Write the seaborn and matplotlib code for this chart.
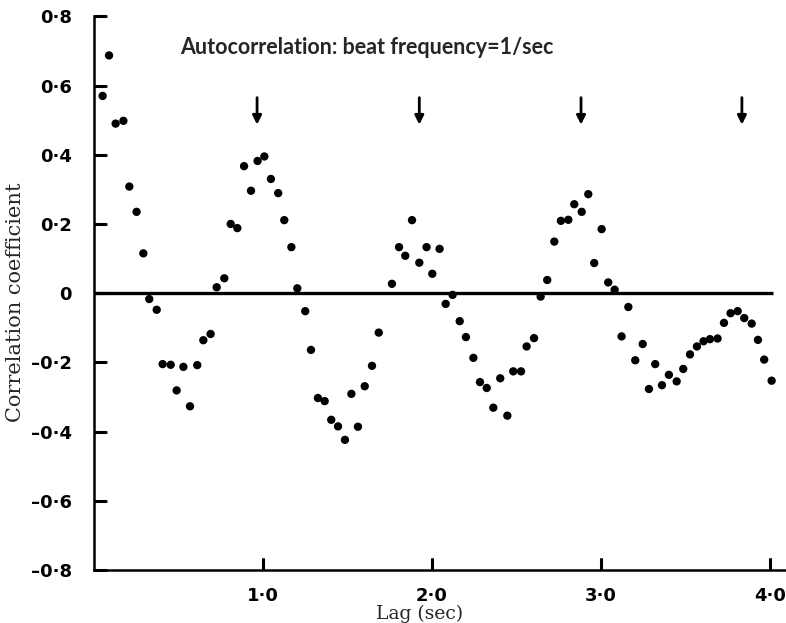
import matplotlib
matplotlib.use("Agg")
import matplotlib.pyplot as plt
import numpy as np
import pandas as pd
import seaborn as sns

# lag (sec) and correlation coefficient
lag = [
    0.051, 0.089, 0.128, 0.174, 0.209, 0.252, 0.292, 0.327, 0.371, 0.406,
    0.454, 0.489, 0.529, 0.568, 0.611, 0.647, 0.690, 0.726, 0.771, 0.809,
    0.848, 0.888, 0.929, 0.968, 1.008, 1.047, 1.090, 1.126, 1.168, 1.203,
    1.250, 1.284, 1.325, 1.365, 1.404, 1.444, 1.485, 1.523, 1.562, 1.602,
    1.645, 1.685, 1.763, 1.805, 1.842, 1.882, 1.925, 1.968, 2.002, 2.045,
    2.081, 2.122, 2.164, 2.201, 2.245, 2.284, 2.324, 2.363, 2.404, 2.446,
    2.481, 2.527, 2.560, 2.604, 2.643, 2.682, 2.724, 2.763, 2.807, 2.842,
    2.886, 2.925, 2.960, 3.004, 3.043, 3.081, 3.122, 3.162, 3.203, 3.247,
    3.284, 3.321, 3.361, 3.402, 3.448, 3.487, 3.527, 3.568, 3.607, 3.645,
    3.690, 3.728, 3.767, 3.809, 3.848, 3.892, 3.929, 3.966, 4.010,
]
corr = [
    0.570, 0.687, 0.490, 0.498, 0.308, 0.235, 0.115, -0.017, -0.048, -0.205,
    -0.207, -0.281, -0.213, -0.327, -0.208, -0.136, -0.118, 0.017, 0.043, 0.200,
    0.188, 0.367, 0.296, 0.382, 0.395, 0.330, 0.289, 0.211, 0.133, 0.014,
    -0.052, -0.164, -0.303, -0.312, -0.366, -0.385, -0.424, -0.291, -0.386, -0.269,
    -0.210, -0.114, 0.027, 0.133, 0.108, 0.211, 0.088, 0.133, 0.056, 0.128,
    -0.031, -0.005, -0.081, -0.127, -0.187, -0.257, -0.274, -0.331, -0.246, -0.354,
    -0.226, -0.226, -0.154, -0.130, -0.010, 0.038, 0.149, 0.209, 0.212, 0.257,
    0.235, 0.286, 0.087, 0.185, 0.031, 0.010, -0.125, -0.040, -0.194, -0.147,
    -0.277, -0.205, -0.266, -0.236, -0.255, -0.219, -0.177, -0.154, -0.139, -0.133,
    -0.131, -0.086, -0.058, -0.052, -0.072, -0.088, -0.135, -0.192, -0.253,
]
# beat-period arrows
arrow_lags = [0.965, 1.925, 2.882, 3.834]

x_ticks = [1.0, 2.0, 3.0, 4.0]
x_tick_labels = ["1\u00b70", "2\u00b70", "3\u00b70", "4\u00b70"]
y_ticks = [-0.8, -0.6, -0.4, -0.2, 0.0, 0.2, 0.4, 0.6, 0.8]
y_tick_labels = ["\u20130\u00b78", "\u20130\u00b76", "\u20130\u00b74", "\u20130\u00b72", "0",
                 "0\u00b72", "0\u00b74", "0\u00b76", "0\u00b78"]

df = pd.DataFrame({"lag": lag, "corr": corr})

sns.set_theme(style="white")
plt.rcParams["font.family"] = ["DejaVu Sans"]
plt.rcParams.update({
    "xtick.bottom": True, "ytick.left": True,
    "xtick.direction": "in", "ytick.direction": "in",
    "xtick.major.size": 9, "ytick.major.size": 9,
    "xtick.major.width": 1.8, "ytick.major.width": 1.8,
    "xtick.color": "black", "ytick.color": "black",
    "axes.axisbelow": False,
})

fig = plt.figure(figsize=(7.86, 6.23), dpi=100)
ax = fig.add_axes([0.1196, 0.0851, 0.8804, 0.8887])

sns.scatterplot(data=df, x="lag", y="corr", ax=ax, color="black", s=36,
                edgecolor="none", legend=False, zorder=3)

ax.plot([0, 4.02], [0, 0], color="black", lw=2.4, zorder=2, solid_capstyle="butt")

for a in arrow_lags:
    ax.annotate("", xy=(a, 0.487), xytext=(a, 0.565),
                arrowprops=dict(arrowstyle="-|>", color="black", lw=2,
                                mutation_scale=13, shrinkA=0, shrinkB=0))

ax.text(0.51, 0.711, "Autocorrelation: beat frequency=1/sec", family=["Lato", "DejaVu Sans"],
        fontweight="bold", fontsize=15.5, ha="left", va="center")

ax.set_xlim(0, 4.095)
ax.set_ylim(-0.8, 0.8)
for side in ["top", "right"]:
    ax.spines[side].set_visible(False)
for side in ["left", "bottom"]:
    ax.spines[side].set_linewidth(1.8)
    ax.spines[side].set_color("black")

ax.set_xticks(x_ticks)
ax.set_xticklabels(x_tick_labels, fontweight="bold", fontsize=13)
ax.set_yticks(y_ticks)
ax.set_yticklabels(y_tick_labels, fontweight="bold", fontsize=13)
ax.set_axisbelow(False)
ax.tick_params(axis="both", which="major", direction="in", length=9, width=1.8,
               color="black", bottom=True, left=True, top=False, right=False)
ax.tick_params(axis="x", pad=12)
ax.tick_params(axis="y", pad=16)

# inward tick marks drawn as short segments at the tick positions, in axes-fraction length
ax.vlines(x_ticks, 0, 0.022, transform=ax.get_xaxis_transform(), color="black",
          lw=2.2, clip_on=False, zorder=4)
ax.hlines(y_ticks, 0, 0.017, transform=ax.get_yaxis_transform(), color="black",
          lw=2.2, clip_on=False, zorder=4)

ax.set_xlabel("Lag (sec)", family=["DejaVu Serif"], fontsize=13.5)
ax.set_ylabel("Correlation coefficient", family=["DejaVu Serif"], fontsize=15)
ax.xaxis.set_label_coords(0.471, -0.062)
ax.yaxis.set_label_coords(-0.099, 0.484)

fig.savefig("out.png", dpi=100)
